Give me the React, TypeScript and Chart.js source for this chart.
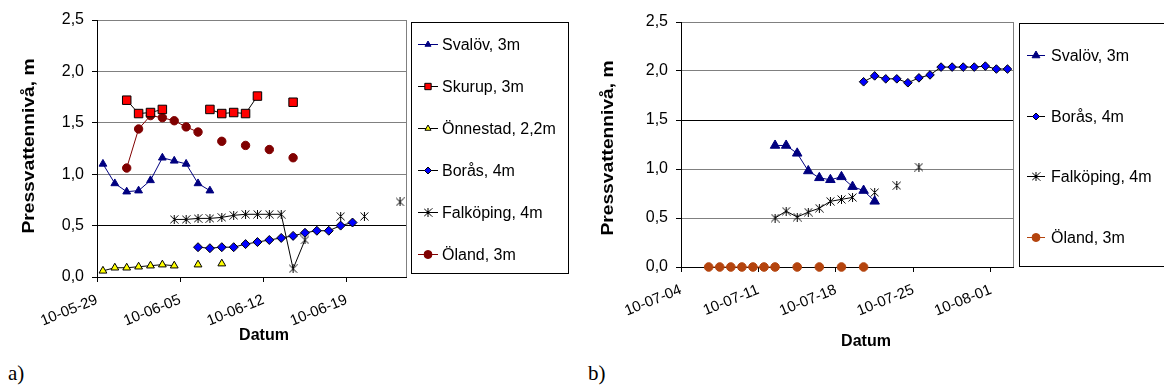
import React, { useEffect, useRef } from 'react';
import { Chart, registerables } from 'chart.js';
import { drawPoint } from 'chart.js/helpers';

Chart.register(...registerables);

// ---------- Chart a) : x = days after 10-05-29 ----------
const tickDaysA = [0, 7, 14, 21];
const tickLabelsA = ['10-05-29', '10-06-05', '10-06-12', '10-06-19'];

const svalovA_x = [0.5, 1.5, 2.5, 3.5, 4.5, 5.5, 6.5, 7.5, 8.5, 9.5];
const svalovA_y = [1.10, 0.91, 0.83, 0.84, 0.94, 1.16, 1.13, 1.10, 0.91, 0.84];

const skurupA_x = [2.5, 3.5, 4.5, 5.5, 6.5, 9.5, 10.5, 11.5, 12.5, 13.5, 14.5, 16.5];
const skurupA_y = [1.72, 1.59, 1.60, 1.63, null, 1.63, 1.59, 1.60, 1.59, 1.76, null, 1.70];

const onnestadA_x = [0.5, 1.5, 2.5, 3.5, 4.5, 5.5, 6.5, 7.5, 8.5, 9.5, 10.5];
const onnestadA_y = [0.06, 0.09, 0.09, 0.10, 0.11, 0.12, 0.11, null, 0.12, null, 0.13];

const borasA_x = [8.5, 9.5, 10.5, 11.5, 12.5, 13.5, 14.5, 15.5, 16.5, 17.5, 18.5, 19.5, 20.5, 21.5];
const borasA_y = [0.29, 0.28, 0.29, 0.29, 0.32, 0.34, 0.36, 0.38, 0.40, 0.43, 0.45, 0.45, 0.50, 0.53];

const falkopingA_x = [6.5, 7.5, 8.5, 9.5, 10.5, 11.5, 12.5, 13.5, 14.5, 15.5, 16.5, 17.5, 18.5, 20.5, 21.5, 22.5, 23.5, 25.5];
const falkopingA_y = [0.56, 0.56, 0.57, 0.57, 0.58, 0.60, 0.61, 0.61, 0.61, 0.61, 0.08, 0.36, null, 0.59, null, 0.59, null, 0.73];

const olandA_x = [2.5, 3.5, 4.5, 5.5, 6.5, 7.5, 8.5, 9.5, 10.5, 11.5, 12.5, 13.5, 14.5, 15.5, 16.5];
const olandA_y = [1.06, 1.44, 1.57, 1.55, 1.52, 1.46, 1.41, null, 1.32, null, 1.28, null, 1.24, null, 1.16];

// ---------- Chart b) : x = days after 10-07-04 ----------
const tickDaysB = [0, 7, 14, 21, 28];
const tickLabelsB = ['10-07-04', '10-07-11', '10-07-18', '10-07-25', '10-08-01'];

const svalovB_x = [8.5, 9.5, 10.5, 11.5, 12.5, 13.5, 14.5, 15.5, 16.5, 17.5];
const svalovB_y = [1.24, 1.24, 1.16, 0.98, 0.91, 0.89, 0.92, 0.82, 0.78, 0.67];

const borasB_x = [16.5, 17.5, 18.5, 19.5, 20.5, 21.5, 22.5, 23.5, 24.5, 25.5, 26.5, 27.5, 28.5, 29.5];
const borasB_y = [1.89, 1.95, 1.92, 1.92, 1.88, 1.93, 1.96, 2.04, 2.04, 2.04, 2.04, 2.05, 2.02, 2.02];

const falkopingB_x = [8.5, 9.5, 10.5, 11.5, 12.5, 13.5, 14.5, 15.5, 16.5, 17.5, 18.5, 19.5, 20.5, 21.5];
const falkopingB_y = [0.50, 0.57, 0.51, 0.56, 0.60, 0.67, 0.69, 0.71, null, 0.76, null, 0.83, null, 1.02];

const olandB_x = [2.5, 3.5, 4.5, 5.5, 6.5, 7.5, 8.5, 9.5, 10.5, 11.5, 12.5, 13.5, 14.5, 15.5, 16.5];
const olandB_y = [0, 0, 0, 0, 0, 0, 0, null, 0, null, 0, null, 0, null, 0];

const FONT = '"Liberation Sans", Arial, Helvetica, sans-serif';

function zip(xs: number[], ys: (number | null)[]) {
  return xs.map((x, i) => ({ x, y: ys[i] }));
}

function makeStar(size: number) {
  const c = document.createElement('canvas');
  c.width = size;
  c.height = size;
  const g = c.getContext('2d')!;
  g.strokeStyle = '#000';
  g.lineWidth = 1;
  g.beginPath();
  g.moveTo(0.5, 0.5);
  g.lineTo(size - 0.5, size - 0.5);
  g.moveTo(size - 0.5, 0.5);
  g.lineTo(0.5, size - 0.5);
  g.moveTo(size / 2, 0);
  g.lineTo(size / 2, size);
  g.stroke();
  return c;
}

function ds(label: string, data: any[], line: string, style: any, radius: number, fill: string, border: string) {
  return {
    label,
    data,
    borderColor: line,
    borderWidth: 1,
    pointStyle: style,
    pointRadius: radius,
    pointHoverRadius: radius,
    pointBackgroundColor: fill,
    pointBorderColor: border,
    pointBorderWidth: 1,
    spanGaps: false,
    clip: false,
    tension: 0,
    fill: false,
  };
}

const boxLegend = {
  id: 'boxLegend',
  afterDraw(chart: any, _a: any, o: any) {
    const ctx = chart.ctx;
    ctx.save();
    ctx.strokeStyle = '#000';
    ctx.lineWidth = 1;
    ctx.strokeRect(o.x + 0.5, o.y + 0.5, o.w, o.h);
    ctx.font = `${o.fontSize}px ${FONT}`;
    ctx.textBaseline = 'middle';
    ctx.textAlign = 'left';
    chart.data.datasets.forEach((d: any, i: number) => {
      const y = Math.round(o.firstY + i * o.gap) + 0.5;
      ctx.strokeStyle = d.borderColor;
      ctx.lineWidth = 1;
      ctx.beginPath();
      ctx.moveTo(o.lineX1, y);
      ctx.lineTo(o.lineX2, y);
      ctx.stroke();
      ctx.fillStyle = d.pointBackgroundColor;
      ctx.strokeStyle = d.pointBorderColor;
      drawPoint(ctx, { pointStyle: d.pointStyle, rotation: 0, radius: o.radii[i], borderWidth: 1 }, (o.lineX1 + o.lineX2) / 2, y);
      ctx.fillStyle = '#000';
      ctx.fillText(d.label, o.textX, y + 1);
    });
    ctx.restore();
  },
};

const axisTitles = {
  id: 'axisTitles',
  afterDraw(chart: any, _a: any, o: any) {
    const ctx = chart.ctx;
    ctx.save();
    ctx.fillStyle = '#000';
    ctx.font = `bold ${o.size}px ${FONT}`;
    ctx.textAlign = 'center';
    ctx.textBaseline = 'middle';
    ctx.fillText(o.xText, o.xX, o.xY);
    ctx.translate(o.yX, o.yY);
    ctx.scale(1, o.yStretch);
    ctx.rotate(-Math.PI / 2);
    ctx.fillText(o.yText, 0, 0);
    ctx.restore();
  },
};

const frame = {
  id: 'frame',
  beforeDatasetsDraw(chart: any) {
    const { ctx, chartArea: a } = chart;
    ctx.save();
    ctx.strokeStyle = '#808080';
    ctx.lineWidth = 1;
    ctx.beginPath();
    const x = Math.round(a.right) + 0.5;
    ctx.moveTo(x, a.top);
    ctx.lineTo(x, a.bottom);
    ctx.stroke();
    ctx.restore();
  },
};

function makeConfig(p: any) {
  return {
    type: 'line',
    data: { datasets: p.datasets },
    plugins: [frame, boxLegend, axisTitles],
    options: {
      animation: false,
      responsive: false,
      devicePixelRatio: 1,
      events: [],
      layout: { padding: { left: 0, right: p.padRight, top: p.padTop, bottom: 0 } },
      plugins: {
        legend: { display: false },
        tooltip: { enabled: false },
        boxLegend: p.legend,
        axisTitles: p.titles,
      },
      scales: {
        x: {
          type: 'linear',
          min: 0,
          max: p.xMax,
          afterBuildTicks: (s: any) => {
            s.ticks = p.tickDays.map((v: number) => ({ value: v }));
          },
          afterFit: (s: any) => {
            s.height = p.xHeight;
          },
          ticks: {
            autoSkip: false,
            minRotation: 22,
            maxRotation: 22,
            padding: 9,
            color: '#000',
            font: { family: FONT, size: 15 },
            callback: (_v: any, i: number) => p.tickLabels[i],
          },
          grid: { display: true, drawOnChartArea: false, drawTicks: true, tickLength: 5, color: '#000', tickColor: '#000' },
          border: { display: true, color: '#000', width: 1 },
        },
        y: {
          min: 0,
          max: 2.5,
          afterFit: (s: any) => {
            s.width = p.yWidth;
          },
          ticks: {
            stepSize: 0.5,
            padding: 8,
            color: '#000',
            font: { family: FONT, size: 16 },
            callback: (v: number) => v.toFixed(1).replace('.', ','),
          },
          grid: {
            color: (c: any) => (c.tick && (c.tick.value === 0 || c.tick.value === p.darkGrid) ? '#000' : '#808080'),
            tickColor: '#000',
            tickLength: 5,
            drawTicks: true,
          },
          border: { display: true, color: '#000', width: 1 },
        },
      },
    },
  };
}

function ChartCanvas(props: { make: () => any; left: number; width: number; height: number }) {
  const ref = useRef<HTMLCanvasElement>(null);
  useEffect(() => {
    const chart = new Chart(ref.current as HTMLCanvasElement, props.make());
    return () => chart.destroy();
  }, []);
  return (
    <canvas
      ref={ref}
      width={props.width}
      height={props.height}
      style={{ position: 'absolute', left: props.left, top: 0, width: props.width, height: props.height }}
    />
  );
}

function configA() {
  const star = makeStar(9);
  const datasets = [
    ds('Svalöv, 3m', zip(svalovA_x, svalovA_y), '#000080', 'triangle', 4.5, '#000080', '#000080'),
    ds('Skurup, 3m', zip(skurupA_x, skurupA_y), '#000000', 'rect', 6, '#FF0000', '#000000'),
    ds('Önnestad, 2,2m', zip(onnestadA_x, onnestadA_y), '#000000', 'triangle', 4.5, '#FFFF00', '#000000'),
    ds('Borås, 4m', zip(borasA_x, borasA_y), '#000000', 'rectRot', 4.5, '#0000FF', '#000000'),
    ds('Falköping, 4m', zip(falkopingA_x, falkopingA_y), '#000000', star, 4.5, '#000000', '#000000'),
    ds('Öland, 3m', zip(olandA_x, olandA_y), '#800000', 'circle', 4.2, '#800000', '#800000'),
  ];
  return makeConfig({
    datasets,
    xMax: 26,
    tickDays: tickDaysA,
    tickLabels: tickLabelsA,
    padRight: 184,
    padTop: 20,
    yWidth: 97,
    xHeight: 83,
    darkGrid: 0.5,
    legend: {
      x: 411, y: 22, w: 157, h: 251,
      firstY: 43.5, gap: 42,
      lineX1: 418, lineX2: 438, textX: 442,
      fontSize: 16,
      radii: [3.5, 4.5, 3.5, 3.5, 4, 4],
    },
    titles: {
      size: 16,
      xText: 'Datum', xX: 264, xY: 336,
      yText: 'Pressvattennivå, m', yX: 30, yY: 146, yStretch: 1.2,
    },
  });
}

function configB() {
  const star = makeStar(9);
  const datasets = [
    ds('Svalöv, 3m', zip(svalovB_x, svalovB_y), '#000080', 'triangle', 5.5, '#000080', '#000080'),
    ds('Borås, 4m', zip(borasB_x, borasB_y), '#000000', 'rectRot', 4.3, '#0000FF', '#000000'),
    ds('Falköping, 4m', zip(falkopingB_x, falkopingB_y), '#000000', star, 4.5, '#000000', '#000000'),
    ds('Öland, 3m', zip(olandB_x, olandB_y), '#B4440E', 'circle', 4.3, '#B4440E', '#B4440E'),
  ];
  return makeConfig({
    datasets,
    xMax: 30,
    tickDays: tickDaysB,
    tickLabels: tickLabelsB,
    padRight: 151,
    padTop: 22,
    yWidth: 91,
    xHeight: 93,
    darkGrid: 1.5,
    legend: {
      x: 429, y: 23, w: 200, h: 243,
      firstY: 55, gap: 60.7,
      lineX1: 437, lineX2: 455, textX: 461,
      fontSize: 16,
      radii: [4.5, 3.5, 4, 4],
    },
    titles: {
      size: 16,
      xText: 'Datum', xX: 276, xY: 342,
      yText: 'Pressvattennivå, m', yX: 19, yY: 148, yStretch: 1.2,
    },
  });
}

export default function App() {
  const labelStyle: React.CSSProperties = {
    position: 'absolute',
    top: 361,
    fontFamily: '"Liberation Serif", "Times New Roman", serif',
    fontSize: 21,
    color: '#000',
  };
  return (
    <div style={{ position: 'absolute', left: 0, top: 0, width: 1164, height: 390, background: '#fff', overflow: 'hidden' }}>
      <ChartCanvas make={configA} left={0} width={590} height={360} />
      <ChartCanvas make={configB} left={590} width={574} height={360} />
      <div style={{ ...labelStyle, left: 8 }}>a)</div>
      <div style={{ ...labelStyle, left: 588 }}>b)</div>
    </div>
  );
}
